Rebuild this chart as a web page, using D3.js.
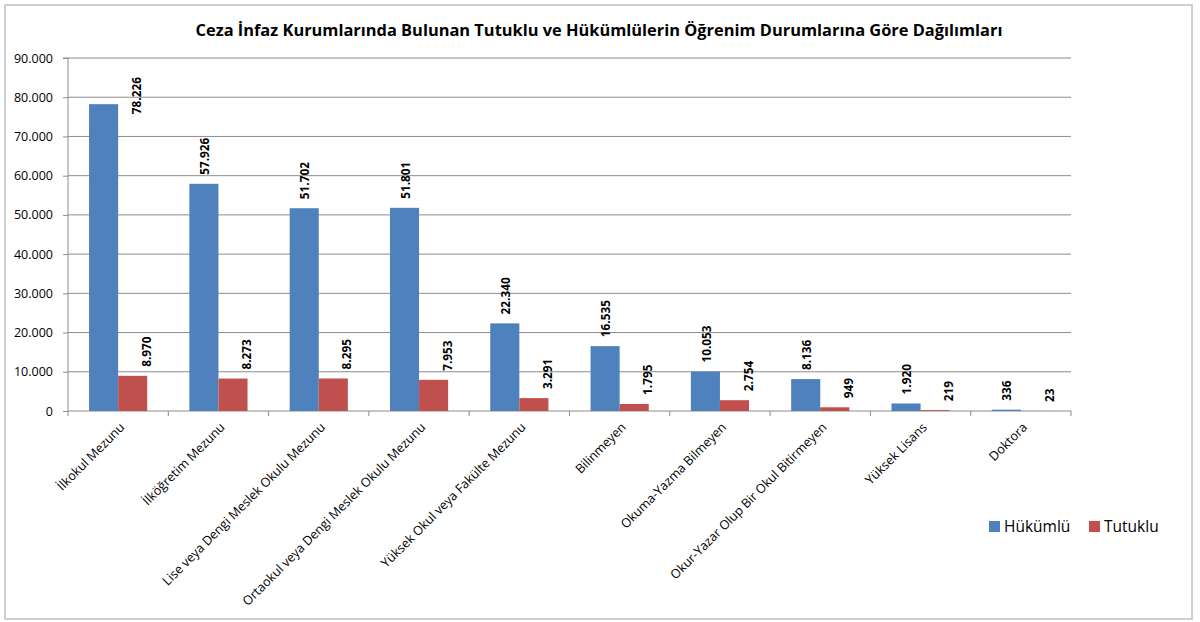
<!DOCTYPE html>
<html><head><meta charset="utf-8">
<script src="https://cdn.jsdelivr.net/npm/d3@7"></script>
<style>body{margin:0;background:#fff;} svg{display:block;}</style>
</head><body>
<svg id="c" width="1200" height="622"></svg>
<script>
const title = "Ceza İnfaz Kurumlarında Bulunan Tutuklu ve Hükümlülerin Öğrenim Durumlarına Göre Dağılımları";
const categories = ["İlkokul Mezunu","İlköğretim Mezunu","Lise veya Dengi Meslek Okulu Mezunu","Ortaokul veya Dengi Meslek Okulu Mezunu","Yüksek Okul veya Fakülte Mezunu","Bilinmeyen","Okuma-Yazma Bilmeyen","Okur-Yazar Olup Bir Okul Bitirmeyen","Yüksek Lisans","Doktora"];
const seriesNames = ["Hükümlü","Tutuklu"];
const hukumlu = [78226,57926,51702,51801,22340,16535,10053,8136,1920,336];
const tutuklu = [8970,8273,8295,7953,3291,1795,2754,949,219,23];
const yTicks = [0,10000,20000,30000,40000,50000,60000,70000,80000,90000];
const colors = ["#4F81BD","#C0504D"];

const svg = d3.select("#c");
const font = "'Open Sans', sans-serif";
const m = {left:68, right:1071, top:58, bottom:411};

// chart frame
svg.append("rect").attr("x",5).attr("y",5).attr("width",1187).attr("height",614)
  .attr("fill","#fff").attr("stroke","#bfbfbf").attr("stroke-width",1.5);

svg.append("text").attr("x",599).attr("y",36).attr("text-anchor","middle")
  .attr("font-family",font).attr("font-weight","bold").attr("font-size",16.4)
  .attr("fill","#000").text(title);

const x = d3.scaleBand().domain(categories).range([m.left,m.right]).paddingInner(0.42).paddingOuter(0.21);
const xs = d3.scaleBand().domain(seriesNames).range([0,x.bandwidth()]);
const y = d3.scaleLinear().domain([0,90000]).range([m.bottom,m.top]);
const fmt = v => d3.format(",")(v).replace(/,/g,".");

// gridlines
svg.append("g").selectAll("line").data(yTicks.filter(t=>t>0)).join("line")
  .attr("x1",m.left).attr("x2",m.right).attr("y1",d=>y(d)).attr("y2",d=>y(d))
  .attr("stroke","#8c8c8c").attr("stroke-width",1);

// y axis
const ya = svg.append("g").attr("transform",`translate(${m.left},0)`)
  .call(d3.axisLeft(y).tickValues(yTicks).tickSize(5).tickPadding(10).tickFormat(fmt));
ya.select(".domain").attr("stroke","#8c8c8c").attr("d",`M-5,${m.top}H0V${m.bottom}`);
ya.selectAll(".tick line").attr("stroke","#8c8c8c");
ya.selectAll("text").attr("font-family",font).attr("font-size",12.5).attr("fill","#000");

// x axis
const xa = svg.append("g").attr("transform",`translate(0,${m.bottom})`);
xa.append("line").attr("x1",m.left).attr("x2",m.right).attr("stroke","#8c8c8c");
const step = (m.right-m.left)/categories.length;
xa.selectAll(".tk").data(d3.range(categories.length+1)).join("line")
  .attr("x1",i=>m.left+i*step).attr("x2",i=>m.left+i*step).attr("y1",0).attr("y2",5)
  .attr("stroke","#8c8c8c");
xa.selectAll(".lbl").data(categories).join("text")
  .attr("transform",d=>`translate(${x(d)+x.bandwidth()/2+4},14) rotate(-45)`)
  .attr("text-anchor","end").attr("dy","0.35em")
  .attr("font-family",font).attr("font-size",12.6).attr("fill","#000").text(d=>d);

// bars
const data = categories.map((c,i)=>({c, vals:[hukumlu[i],tutuklu[i]]}));
const g = svg.append("g");
data.forEach(d=>{
  d.vals.forEach((v,j)=>{
    const bx = x(d.c)+xs(seriesNames[j]);
    g.append("rect").attr("x",bx).attr("y",y(v)).attr("width",xs.bandwidth()).attr("height",m.bottom-y(v))
      .attr("fill",colors[j]);
    let cx = bx + xs.bandwidth()/2 + (j===1?14:1);
    let by = y(v) - 9;
    const t = g.append("text").attr("font-family",font).attr("font-weight","bold").attr("font-size",11.8)
      .attr("fill","#000").text(fmt(v));
    const len = t.node().getComputedTextLength();
    if (by - len < m.top + 2) { cx = bx + xs.bandwidth() + 19; by = y(v) + 10; }
    t.attr("transform",`translate(${cx},${by}) rotate(-90)`).attr("dy","0.35em");
  });
});

// legend
const lg = svg.append("g").attr("transform","translate(989,521)");
[[0,0],[1,100]].forEach(([j,dx])=>{
  lg.append("rect").attr("x",dx).attr("y",0).attr("width",11).attr("height",11).attr("fill",colors[j]);
  lg.append("text").attr("x",dx+15).attr("y",6).attr("dy","0.35em")
    .attr("font-family",font).attr("font-size",15.5).attr("fill","#000").text(seriesNames[j]);
});
</script>
</body></html>
